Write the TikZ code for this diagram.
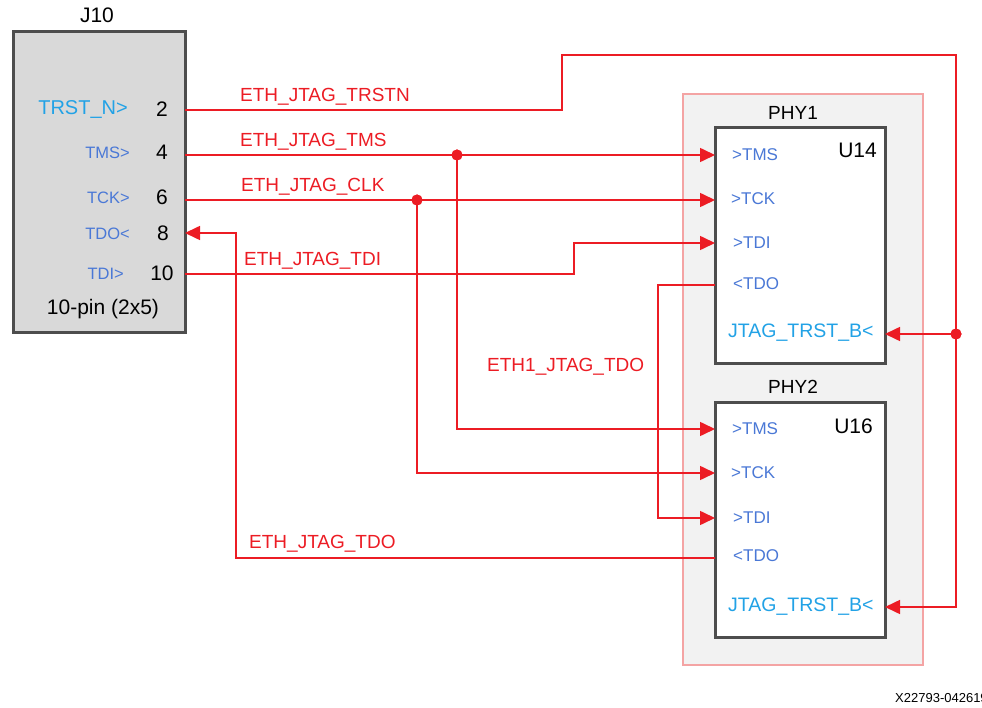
\documentclass[tikz,border=0pt]{standalone}
\usepackage{fontspec}
\setmainfont{Liberation Sans}
\usetikzlibrary{arrows.meta}
\definecolor{wire}{HTML}{EC1C24}
\definecolor{pinblue}{HTML}{4A78D6}
\definecolor{lblue}{HTML}{22A2E6}
\definecolor{boxline}{HTML}{4D4D4D}
\definecolor{grpline}{HTML}{F4A4A4}
\tikzset{
  fs/.style={font=\fontsize{#1}{#1}\selectfont},
  jbox/.style={draw=boxline, line width=3pt, fill=black!15, inner sep=0pt},
  ubox/.style={draw=boxline, line width=3pt, fill=white, inner sep=0pt},
  grp/.style={draw=grpline, line width=1.5pt, fill=black!5, inner sep=0pt},
  wirel/.style={draw=wire, line width=1.6pt},
  arr/.style={wirel, -{Triangle[length=15pt,width=14pt]}},
  wlabel/.style={text=wire, fs=19, anchor=base west, inner sep=0pt},
  jpin/.style={text=pinblue, fs=16.5, anchor=east, inner sep=0pt},
  jpinL/.style={text=lblue, fs=20, anchor=east, inner sep=0pt},
  pnum/.style={fs=21, anchor=center, inner sep=0pt},
  upin/.style={text=pinblue, fs=17, anchor=west, inner sep=0pt},
  upinL/.style={text=lblue, fs=19.5, anchor=west, inner sep=0pt},
  title/.style={fs=19, inner sep=0pt},
  dot/.style={circle, fill=wire, inner sep=0pt, minimum size=11pt},
}
\begin{document}
\begin{tikzpicture}[x=1pt,y=-1pt]
\useasboundingbox (0,0) rectangle (982,708);
% J10
\node[jbox, minimum width=172pt, minimum height=301pt] (J10) at (99,182.5) {};
\node[title, fs=21] (J10t) at (97,15) {J10};
\node[jpinL] (lTRST) at (128,110) {TRST\_N>};
\node[jpin] (lTMS) at (130,153) {TMS>};
\node[jpin] (lTCK) at (130,198) {TCK>};
\node[jpin] (lTDO) at (130,234) {TDO<};
\node[jpin] (lTDI) at (124,274) {TDI>};
\node[pnum] (n2) at (162,109) {2};
\node[pnum] (n4) at (162,152) {4};
\node[pnum] (n6) at (162,197) {6};
\node[pnum] (n8) at (163,233) {8};
\node[pnum] (n10) at (162,273) {10};
\node[pnum] (jfoot) at (103,309) {10-pin (2x5)};
\coordinate (j2) at (185,110);
\coordinate (j4) at (185,155);
\coordinate (j6) at (185,200);
\coordinate (j8) at (185,233);
\coordinate (j10) at (185,274);
% groups
\node[grp, minimum width=240pt, minimum height=571pt] (G) at (803,379.5) {};
% U14
\node[ubox, minimum width=170pt, minimum height=235pt] (U14) at (800,245.5) {};
\node[title] (PHY1) at (793,113) {PHY1};
\node[fs=21, anchor=east, inner sep=0pt] (U14t) at (877,150) {U14};
\node[upin] (a1) at (732,155) {>TMS};
\node[upin] (a2) at (731,199) {>TCK};
\node[upin] (a3) at (733,243) {>TDI};
\node[upin] (a4) at (733,284) {<TDO};
\node[upinL] (a5) at (728,333) {JTAG\_TRST\_B<};
\coordinate (u14tms) at (715,155);
\coordinate (u14tck) at (715,200);
\coordinate (u14tdi) at (715,243);
\coordinate (u14tdo) at (715,285);
\coordinate (u14rst) at (885,334);
% U16
\node[ubox, minimum width=170pt, minimum height=235pt] (U16) at (800,519.5) {};
\node[title] (PHY2) at (793,387) {PHY2};
\node[fs=21, anchor=east, inner sep=0pt] (U16t) at (873,426) {U16};
\node[upin] (b1) at (732,429) {>TMS};
\node[upin] (b2) at (731,473) {>TCK};
\node[upin] (b3) at (733,518) {>TDI};
\node[upin] (b4) at (733,556) {<TDO};
\node[upinL] (b5) at (728,607) {JTAG\_TRST\_B<};
\coordinate (u16tms) at (715,429);
\coordinate (u16tck) at (715,473);
\coordinate (u16tdi) at (715,518);
\coordinate (u16tdo) at (715,558);
\coordinate (u16rst) at (885,607);
% junctions
\node[dot] (dTMS) at (457,155) {};
\node[dot] (dTCK) at (417,200) {};
\node[dot] (dRST) at (956,334) {};
% wires
\draw[wirel] (j2) -- (562,110) -- (562,55) -- (956,55) -- (dRST.center);
\draw[arr] (dRST.center) -- (u14rst);
\draw[arr] (dRST.center) -- (956,607) -- (u16rst);
\draw[arr] (j4) -- (u14tms);
\draw[arr] (dTMS.center) -- (457,429) -- (u16tms);
\draw[arr] (j6) -- (u14tck);
\draw[arr] (dTCK.center) -- (417,473) -- (u16tck);
\draw[arr] (j10) -- (574,274) -- (574,243) -- (u14tdi);
\draw[arr] (u14tdo) -- (658,285) -- (658,518) -- (u16tdi);
\draw[arr] (u16tdo) -- (236,558) -- (236,233) -- (j8);
\node[dot] at (dTMS) {};
\node[dot] at (dTCK) {};
\node[dot] at (dRST) {};
% labels
\node[wlabel] (w1) at (240,102) {ETH\_JTAG\_TRSTN};
\node[wlabel] (w2) at (240,147) {ETH\_JTAG\_TMS};
\node[wlabel] (w3) at (241,192) {ETH\_JTAG\_CLK};
\node[wlabel] (w4) at (244,266) {ETH\_JTAG\_TDI};
\node[wlabel] (w5) at (487,371) {ETH1\_JTAG\_TDO};
\node[wlabel] (w6) at (249,548) {ETH\_JTAG\_TDO};
\node[fs=13, anchor=base west, inner sep=0pt] (fig) at (895,702) {X22793-042619};
\end{tikzpicture}
\end{document}
